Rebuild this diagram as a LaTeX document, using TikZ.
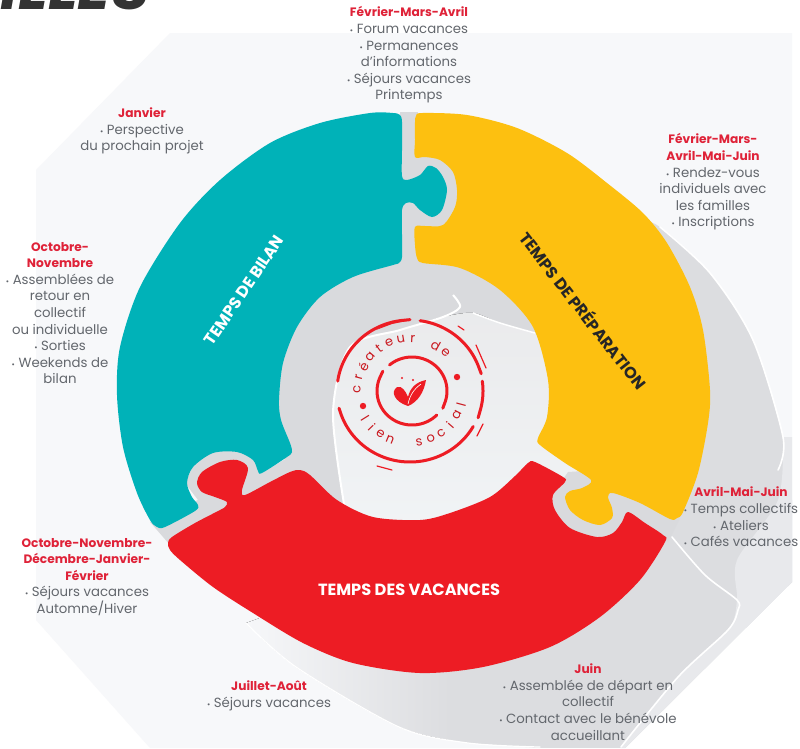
\documentclass[tikz,border=0pt]{standalone}
\usepackage{fontspec}
\setmainfont{Poppins}
\newfontfamily\titlefont{Poppins}
\usetikzlibrary{calc,decorations.pathmorphing}
\definecolor{tealp}{HTML}{00B2B8}
\definecolor{yell}{HTML}{FDC010}
\definecolor{redp}{HTML}{ED1C24}
\definecolor{gapg}{HTML}{D9DADD}
\definecolor{shad}{HTML}{DCDDE0}
\definecolor{shadl}{HTML}{E8E9EC}
\definecolor{panel}{HTML}{F7F8FA}
\definecolor{lightc}{HTML}{F2F5F7}
\definecolor{txt}{HTML}{63676D}
\definecolor{hd}{HTML}{DF2238}
\tikzset{
  lab/.style={align=center,text=txt,inner sep=0pt,font=\fontsize{13.3}{16.6}\selectfont},
  ttl/.style={inner sep=0pt,font=\bfseries\fontsize{16.2}{18}\selectfont},
  ringl/.style={draw=redp,line width=3pt,line cap=round,decorate,decoration={random steps,segment length=6pt,amplitude=.8pt}},
  strayl/.style={draw=redp,line width=1.2pt,line cap=round},
  ltr/.style={inner sep=0pt,text=redp!85!black,font=\fontsize{13}{14}\selectfont},
  wl/.style={draw=white,line width=1.6pt,line cap=round},
  piece/.style={smooth cycle,tension=0.5}
}
\newcommand{\hdr}[1]{{\color{hd}\bfseries\fontsize{12.2}{16.6}\selectfont #1}}
\newcommand{\bul}{{\footnotesize•}\ }
\begin{document}
\begin{tikzpicture}[x=1pt,y=-1pt]
\useasboundingbox (0,0) rectangle (800,748);
\clip (0,0) rectangle (800,748);
\fill[white] (0,0) rectangle (800,748);
% panel
\fill[panel] (170,33) -- (792,33) -- (792,582) -- (625,748) -- (150,748) -- (36,620) -- (36,170) -- cycle;
% cut-off heading
\node[anchor=base east,inner sep=0pt,text=black!80,font=\titlefont\bfseries\itshape\fontsize{62}{62}\selectfont] (heading) at (150,9) {ILLES};
% shadow of the ring
\begin{scope}
\clip plot[smooth,tension=.5] coordinates {(630,215) (660,227) (710,273) (753,340) (783,437)} -- (792,500) -- (792,582) -- (625,748) -- (540,748) -- plot[smooth,tension=.5] coordinates {(468,743) (399,727) (296,667) (246,623)} -- (420,560) -- cycle;
\fill[left color=panel,right color=shad] (240,560) rectangle (450,748);
\fill[shad] (450,200) rectangle (800,748);
\end{scope}
\fill[shadl] plot[smooth,tension=.5] coordinates {(783,437) (778,500) (737,560) (737,600) (728,630) (678,677) (621,748)} -- (625,748) -- (792,582) -- (792,437) -- cycle;
\draw[wl] plot[smooth,tension=.5] coordinates {(660,227) (710,273) (753,340) (783,437) (778,470)};
\draw[wl] plot[smooth,tension=.5] coordinates {(672,537) (705,575) (737,600) (738,610) (728,630) (678,677) (621,747)};
\draw[wl,line width=1.2pt] plot[smooth,tension=.5] coordinates {(246,623) (296,667) (399,727) (468,743) (540,747)};
% centre hole
\fill[gapg] (413,392) ellipse [x radius=146,y radius=140];
\fill[top color=gapg!55!white,bottom color=lightc] plot[smooth,tension=.5] coordinates {(345,510) (333,413) (350,347) (400,330) (443,317) (473,313) (500,323) (535,333)} -- (600,335) -- (600,520) -- (345,560) -- cycle;
\draw[white,line width=2pt] plot[smooth,tension=.5] coordinates {(345,510) (333,413) (350,347) (400,330) (443,317) (460,307) (453,295)};
\draw[white,line width=1.5pt] plot[smooth,tension=.5] coordinates {(473,313) (500,323) (535,333)};
% gaps
\fill[gapg] (400,112) rectangle (418,266);
\fill[gapg] (415,152) rectangle (460,230);
\fill[gapg] (150,522) -- (198,500) -- (185,483) -- (195,462) -- (215,450) -- (240,450) -- (256,462) -- (262,473) -- (292,455) -- (300,472) -- (170,545) -- cycle;
\fill[gapg] (568,472) -- (600,470) -- (625,480) -- (680,518) -- (668,542) -- (625,515) -- (620,530) -- (597,540) -- (568,530) -- (552,510) -- (552,495) -- cycle;
% teal piece
\fill[tealp] plot[piece] coordinates {
 (393,113) (400,115) (402,122) (402,150) (402,176) (407,180) (420,175) (428,166) (436,168) (443,177) (447,190) (442,210) (432,217) (420,210) (413,203) (406,203) (402,210) (402,235) (402,257) (399,263) (393,265) (353,277) (320,297) (297,327) (283,363) (279,400) (281,420) (290,443) (292,452) (287,457) (262,473) (258,471) (253,460) (237,452) (213,453) (193,467) (187,483) (192,497) (198,505) (195,511) (165,527) (157,527) (150,520) (137,493) (123,447) (117,395) (120,347) (140,287) (180,223) (220,180) (270,143) (320,123) (370,113)};
% yellow piece
\fill[yell] plot[piece] coordinates {
 (415,122) (416,116) (422,113) (467,115) (517,128) (567,153) (607,183) (643,213) (667,243) (690,287) (703,330) (710,390) (708,423) (698,473) (683,512) (677,518) (670,519) (640,503) (613,493) (608,497) (612,508) (612,518) (600,525) (583,520) (570,510) (565,497) (570,491) (582,488) (591,480) (565,463) (540,445) (538,438) (547,417) (548,380) (533,327) (500,290) (460,268) (423,263) (417,258) (415,245) (415,227) (425,226) (443,225) (455,207) (457,190) (453,172) (440,160) (425,157) (415,157) (415,140)};
% red piece
\fill[redp] plot[piece] coordinates {
 (168,543) (172,537) (195,523) (220,510) (225,507) (227,502) (215,497) (202,492) (197,483) (202,472) (220,462) (237,460) (248,468) (242,490) (245,495) (270,482) (290,472) (300,470) (310,475) (337,500) (373,517) (420,520) (450,513) (490,497) (515,476) (528,463) (535,462) (563,477) (565,482) (553,495) (555,510) (570,528) (597,537) (613,533) (622,522) (628,512) (645,523) (663,535) (665,542) (640,580) (600,617) (550,647) (483,667) (420,673) (353,663) (303,643) (253,613) (213,587) (180,560) (170,550)};
% stamp rings
\foreach \a/\b in {172/90,82/14,8/-22,-30/-166}{
  \draw[ringl] plot[domain=\a:\b,samples=50] ({410+73*cos(\x)},{391-71*sin(\x)});
}
\foreach \a/\b in {130/-30,-45/-215}{
  \draw[ringl] plot[domain=\a:\b,samples=40] ({412+35*cos(\x)},{391-34*sin(\x)});
}
% stray marks of the stamp
\fill[redp] (376,330) -- (392,321) -- (411,320) -- (392,324) -- cycle;
\draw[strayl] (458,326) -- (464,330);
\draw[strayl] (476,345) -- (486,368);
\draw[strayl] (477,436) -- (483,424);
\draw[strayl] (377,466) -- (392,470);
\fill[redp] (457,377) circle (3.2);
\fill[redp] (363,406) circle (3.2);
% stamp letters
\foreach \c/\a in {c/178,r/165,é/152,a/139,t/126,e/113,u/100,r/87,d/61,e/48}{
  \node[ltr,rotate={\a-90}] at ({410+53*cos(\a)},{391-52*sin(\a)}) {\c};
}
\foreach \c/\a in {l/212,i/224,e/236,n/248,s/280,o/293,c/306,i/319,a/332,l/345}{
  \node[ltr,rotate={\a+90}] at ({410+53*cos(\a)},{391-52*sin(\a)}) {\c};
}
% leaf
\fill[redp] (408,406) .. controls (395,402) and (390,392) .. (397,387) .. controls (402,385) and (406,392) .. (408,397) .. controls (410,388) and (416,382) .. (426,380) .. controls (424,392) and (418,402) .. (408,406) -- cycle;
\draw[white,line width=.6pt] (408,404) .. controls (410,395) and (414,389) .. (421,384);
\fill[redp] (402,378) circle (1.1) (413,380) circle (1.1);
% titles
\node[ttl,text=white,rotate=56] (bilan) at (244,290) {TEMPS DE BILAN};
\node[ttl,text=black!85,rotate=-52] (prep) at (584,310) {TEMPS DE PRÉPARATION};
\node[ttl,text=white] (vac) at (409,590) {TEMPS DES VACANCES};
% labels
\node[lab] (l1) at (409,55) {\hdr{Février-Mars-Avril}\\\bul Forum vacances\\\bul Permanences\\d’informations\\\bul Séjours vacances\\Printemps};
\node[lab] (l2) at (142,131) {\hdr{Janvier}\\\bul Perspective\\du prochain projet};
\node[lab] (l3) at (60,313) {\hdr{Octobre-}\\\hdr{Novembre}\\\bul Assemblées de\\retour en\\collectif\\ou individuelle\\\bul Sorties\\\bul Weekends de\\bilan};
\node[lab] (l4) at (713,182) {\hdr{Février-Mars-}\\\hdr{Avril-Mai-Juin}\\\bul Rendez-vous\\individuels avec\\les familles\\\bul Inscriptions};
\node[lab] (l5) at (741,517) {\hdr{Avril-Mai-Juin}\\\bul Temps collectifs\\\bul Ateliers\\\bul Cafés vacances};
\node[lab] (l6) at (588,702) {\hdr{Juin}\\\bul Assemblée de départ en\\collectif\\\bul Contact avec le bénévole\\accueillant};
\node[lab] (l7) at (269,696) {\hdr{Juillet-Août}\\\bul Séjours vacances};
\node[lab] (l8) at (87,577) {\hdr{Octobre-Novembre-}\\\hdr{Décembre-Janvier-}\\\hdr{Février}\\\bul Séjours vacances\\Automne/Hiver};
\end{tikzpicture}
\end{document}
